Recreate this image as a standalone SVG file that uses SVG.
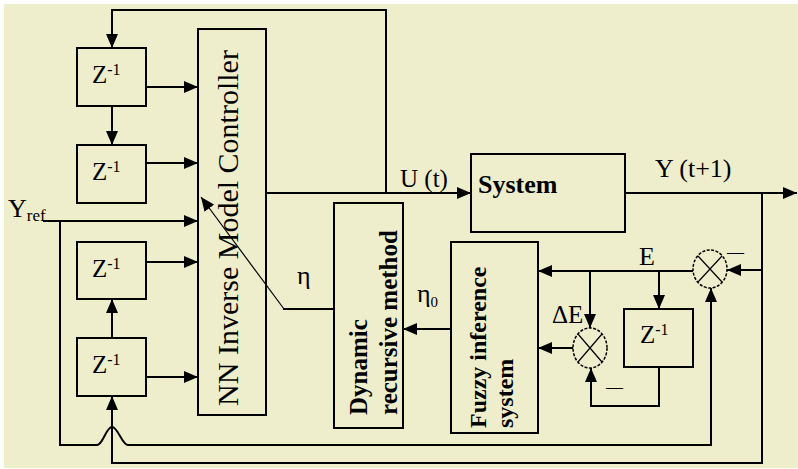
<svg xmlns="http://www.w3.org/2000/svg" width="798" height="469" viewBox="0 0 798 469">
<defs>
<style>
.box{fill:none;stroke:#000;stroke-width:2}
.ln{fill:none;stroke:#000;stroke-width:2}
.thin{fill:none;stroke:#000;stroke-width:1.2}
.sum{fill:none;stroke:#000;stroke-width:1.5;stroke-dasharray:3,1.5}
.t{font-family:"Liberation Serif","Times New Roman",serif;fill:#000}
.b{font-weight:bold}
</style>
<marker id="ah" viewBox="0 0 14 12" refX="14" refY="6" markerWidth="14" markerHeight="12" markerUnits="userSpaceOnUse" orient="auto">
<path d="M0,0 L14,6 L0,12 z" fill="#000"/>
</marker>
</defs>
<rect x="0" y="0" width="798" height="469" fill="#fff"/>
<rect x="4" y="4" width="794" height="464" fill="#EEEECC"/>

<g id="z1"><rect class="box" x="77" y="48" width="69" height="58"/><text class="t" x="92" y="83" font-size="25">Z<tspan font-size="16" dy="-8">-1</tspan></text></g>
<g id="z2"><rect class="box" x="77" y="145" width="69" height="58"/><text class="t" x="92" y="180" font-size="25">Z<tspan font-size="16" dy="-8">-1</tspan></text></g>
<g id="z3"><rect class="box" x="77" y="242" width="69" height="57"/><text class="t" x="92" y="277" font-size="25">Z<tspan font-size="16" dy="-8">-1</tspan></text></g>
<g id="z4"><rect class="box" x="77" y="338" width="69" height="58"/><text class="t" x="92" y="373" font-size="25">Z<tspan font-size="16" dy="-8">-1</tspan></text></g>
<g id="z5"><rect class="box" x="624" y="309" width="69" height="58"/><text class="t" x="640" y="343" font-size="25">Z<tspan font-size="16" dy="-8">-1</tspan></text></g>

<g id="controller"><rect class="box" x="198" y="29" width="68" height="386"/><text class="t" transform="translate(238,228) rotate(-90)" text-anchor="middle" font-size="30">NN Inverse Model Controller</text></g>

<g id="system"><rect class="box" x="471" y="154" width="154" height="78"/><text class="t b" x="478" y="193" font-size="26">System</text></g>

<g id="drm"><rect class="box" x="334" y="203" width="69" height="225"/>
<text class="t b" transform="translate(367,415) rotate(-90)" font-size="25">Dynamic</text>
<text class="t b" transform="translate(397,415) rotate(-90)" font-size="25">recursive method</text></g>

<g id="fuzzy"><rect class="box" x="451" y="242" width="87" height="191"/>
<text class="t b" transform="translate(486,428) rotate(-90)" font-size="24">Fuzzy inference</text>
<text class="t b" transform="translate(513,428) rotate(-90)" font-size="24">system</text></g>

<g id="sum1"><ellipse class="sum" cx="710" cy="269" rx="17" ry="19"/><path class="thin" d="M698,256 L722,282 M722,256 L698,282"/><text class="t" x="727" y="257" font-size="17">—</text></g>
<g id="sum2"><ellipse class="sum" cx="590" cy="348" rx="17" ry="20"/><path class="thin" d="M578,334 L602,362 M602,334 L578,362"/><text class="t" x="606" y="392" font-size="17">—</text></g>

<g id="connectors">
<path class="ln" d="M386,193 V10 H112 V48" marker-end="url(#ah)"/>
<path class="ln" d="M112,106 V145" marker-end="url(#ah)"/>
<path class="ln" d="M146,87 H198" marker-end="url(#ah)"/>
<path class="ln" d="M146,163 H198" marker-end="url(#ah)"/>
<path class="ln" d="M43,221 H198" marker-end="url(#ah)"/>
<path class="ln" d="M146,262 H198" marker-end="url(#ah)"/>
<path class="ln" d="M146,377 H198" marker-end="url(#ah)"/>
<path class="ln" d="M112,338 V299" marker-end="url(#ah)"/>
<path class="ln" d="M762,193 V463 H112 V396" marker-end="url(#ah)"/>
<path class="ln" d="M60,221 V445 H97 C103,445 106,427 112,427 C118,427 122,445 128,445 H711 V288" marker-end="url(#ah)"/>
<path class="ln" d="M266,193 H471" marker-end="url(#ah)"/>
<path class="ln" d="M625,193 H797" marker-end="url(#ah)"/>
<path class="ln" d="M762,270 H727" marker-end="url(#ah)"/>
<path class="ln" d="M693,271 H538" marker-end="url(#ah)"/>
<path class="ln" d="M659,271 V309" marker-end="url(#ah)"/>
<path class="ln" d="M590,271 V328" marker-end="url(#ah)"/>
<path class="ln" d="M573,348 H538" marker-end="url(#ah)"/>
<path class="ln" d="M659,367 V406 H591 V368" marker-end="url(#ah)"/>
<path class="ln" d="M451,329 H403" marker-end="url(#ah)"/>
<path class="ln" d="M334,309 H283"/>
<path class="thin" d="M284,309 L201,197" marker-end="url(#ah)"/>
</g>

<g id="labels">
<text class="t" x="8" y="217" font-size="26">Y<tspan font-size="17" dy="4">ref</tspan></text>
<text class="t" x="400" y="187" font-size="25">U (t)</text>
<text class="t" x="655" y="177" font-size="26">Y (t+1)</text>
<text class="t" x="639" y="265" font-size="26">E</text>
<text class="t" x="552" y="323" font-size="25">ΔE</text>
<text class="t" x="297" y="284" font-size="26">η</text>
<text class="t" x="417" y="302" font-size="26">η<tspan font-size="15" dy="5">0</tspan></text>
</g>
</svg>
